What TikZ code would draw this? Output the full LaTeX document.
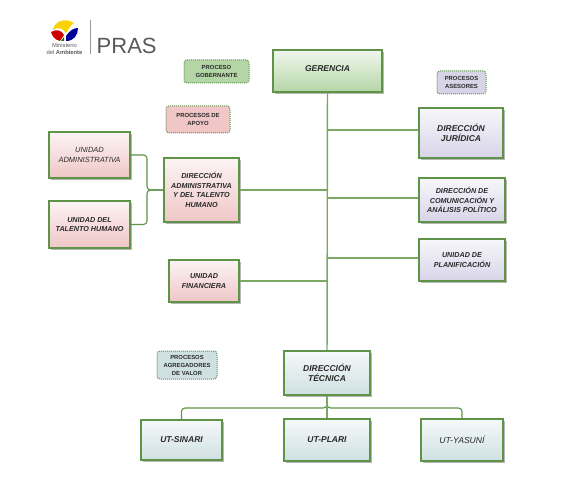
\documentclass[tikz,border=0pt]{standalone}
\usepackage{fontspec}
\setmainfont{Liberation Sans}
\usetikzlibrary{shadows}
\definecolor{linegreen}{HTML}{7CA865}
\definecolor{boxgreen}{HTML}{5E9348}
\definecolor{gobgreen}{HTML}{B4D6A6}
\definecolor{apoyored}{HTML}{F0C6C6}
\definecolor{aseslila}{HTML}{D8D4E8}
\definecolor{agrblue}{HTML}{CFE0E2}
\definecolor{textgray}{HTML}{2A2A2A}
\tikzset{
	unit/.style = {draw=boxgreen, line width=1.2pt, align=center, inner sep=1pt, text=textgray, drop shadow={shadow xshift=2pt, shadow yshift=-2pt, fill=black!40, opacity=0.7}},
	greenunit/.style = {unit, top color=white!80!gobgreen, bottom color=gobgreen},
	redunit/.style = {unit, top color=white!80!apoyored, bottom color=apoyored},
	lilaunit/.style = {unit, top color=white!80!aseslila, bottom color=aseslila},
	blueunit/.style = {unit, top color=white!80!agrblue, bottom color=agrblue},
	tag/.style = {draw=boxgreen, densely dotted, line width=1pt, rounded corners=3pt, align=center, inner sep=1pt, font=\fontsize{5.9}{8}\selectfont\bfseries, text=textgray},
	link/.style = {draw=linegreen, line width=1.4pt},
	roundlink/.style = {draw=boxgreen, line width=1.1pt, rounded corners=3.5pt},
	bigtext/.style = {font=\fontsize{8.5}{10.2}\selectfont\bfseries\itshape},
	boldtext/.style = {font=\fontsize{7.2}{9.5}\selectfont\bfseries\itshape},
	plaintext/.style = {font=\fontsize{7.5}{9.5}\selectfont\itshape}
}
\begin{document}
\begin{tikzpicture}[x=1pt,y=-1pt]
	\useasboundingbox (0,0) rectangle (568,484);

	\node[greenunit, bigtext, minimum width=109pt, minimum height=42pt, text depth=4pt] (gerencia) at (327.5,71) {GERENCIA};
	\node[lilaunit, bigtext, minimum width=84pt, minimum height=50pt] (juridica) at (461,133) {DIRECCIÓN\\JURÍDICA};
	\node[lilaunit, boldtext, minimum width=86pt, minimum height=44pt] (comunicacion) at (462,200) {DIRECCIÓN DE\\COMUNICACIÓN Y\\ANÁLISIS POLÍTICO};
	\node[lilaunit, boldtext, minimum width=86pt, minimum height=42pt] (planificacion) at (462,260) {UNIDAD DE\\PLANIFICACIÓN};
	\node[redunit, plaintext, minimum width=81pt, minimum height=46pt] (administrativa) at (89.5,155) {UNIDAD\\ADMINISTRATIVA};
	\node[redunit, boldtext, minimum width=81pt, minimum height=47pt] (talento) at (89.5,224.5) {UNIDAD DEL\\TALENTO HUMANO};
	\node[redunit, boldtext, minimum width=75pt, minimum height=64pt] (diradmin) at (201.5,190) {DIRECCIÓN\\ADMINISTRATIVA\\Y DEL TALENTO\\HUMANO};
	\node[redunit, boldtext, minimum width=70pt, minimum height=42pt] (financiera) at (204,281) {UNIDAD\\FINANCIERA};
	\node[blueunit, bigtext, minimum width=86pt, minimum height=44pt] (tecnica) at (327,373) {DIRECCIÓN\\TÉCNICA};
	\node[blueunit, bigtext, minimum width=81pt, minimum height=40pt] (sinari) at (181.5,440) {UT-SINARI};
	\node[blueunit, bigtext, minimum width=86pt, minimum height=42pt] (plari) at (327,440) {UT-PLARI};
	\node[blueunit, font=\fontsize{8.6}{10}\selectfont\itshape, minimum width=82pt, minimum height=42pt] (yasuni) at (462,440) {UT-YASUNÍ};

	\node[tag, fill=gobgreen, minimum width=65pt, minimum height=23pt] (gobernante) at (216.5,71.5) {PROCESO\\GOBERNANTE};
	\node[tag, fill=apoyored, minimum width=64pt, minimum height=27pt] (apoyo) at (198,119.5) {PROCESOS DE\\APOYO};
	\node[tag, fill=aseslila, minimum width=49pt, minimum height=23pt] (asesores) at (461.5,82.5) {PROCESOS\\ASESORES};
	\node[tag, fill=agrblue, minimum width=60pt, minimum height=28pt] (agregadores) at (187,365) {PROCESOS\\AGREGADORES\\DE VALOR};

	\draw[link] (gerencia) -- (tecnica);
	\draw[link] ([yshift=3pt]juridica.west) -- ([yshift=3pt]juridica.west -| gerencia);
	\draw[link] ([yshift=2pt]comunicacion.west) -- ([yshift=2pt]comunicacion.west -| gerencia);
	\draw[link] ([yshift=2pt]planificacion.west) -- ([yshift=2pt]planificacion.west -| gerencia);
	\draw[link] (diradmin) -- (diradmin -| gerencia);
	\draw[link] (financiera) -- (financiera -| gerencia);
	\draw[roundlink] (administrativa) -| (147,190) -- (diradmin);
	\draw[roundlink] (talento) -| (147,190) -- (diradmin);
	\draw[roundlink] (tecnica.south) -- (327,408) -| (sinari.north);
	\draw[roundlink] (tecnica.south) -- (327,408) -| (yasuni.north);
	\draw[link] (tecnica) -- (plari);

	\fill[black!40] (89.6,20) rectangle (90.6,54);
	\node[anchor=west, inner sep=0pt, text=black!65, font=\fontsize{22}{22}\selectfont] (pras) at (96.5,45.5) {PRAS};
	\node[anchor=center, inner sep=0pt, align=center, text=black!65, font=\fontsize{5.8}{7}\selectfont] (ministerio) at (64.5,48.5) {Ministerio\\del \textbf{Ambiente}};
	\fill[yellow!70!orange] (53,30) .. controls (54,22) and (64,17) .. (74,23) .. controls (71,25) and (69,28) .. (66,33) .. controls (63,28) and (58,27) .. (53,30);
	\fill[red!80!black] (51,32) .. controls (56,29) and (62,30) .. (64,35) -- (60,41) .. controls (55,40) and (52,36) .. (51,32);
	\fill[blue!60!black] (66,36) .. controls (70,30) and (74,28) .. (78,28) .. controls (78,35) and (74,41) .. (66,41) -- cycle;
	\fill[green!50!black] (61,41) -- (64,37) -- (64,41) -- cycle;
\end{tikzpicture}
\end{document}
